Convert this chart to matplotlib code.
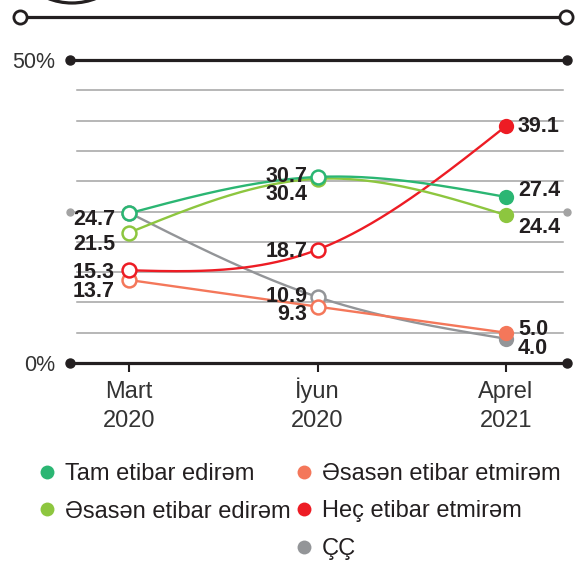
import numpy as np
import matplotlib
matplotlib.use("Agg")
import matplotlib.pyplot as plt
from matplotlib.patches import Circle

plt.rcParams['font.family'] = ['Liberation Sans', 'DejaVu Sans']

# ---------------- data ----------------
categories = ['Mart\n2020', 'İyun\n2020', 'Aprel\n2021']
series_names = ['Tam etibar edirəm', 'Əsasən etibar edirəm',
                'Əsasən etibar etmirəm', 'Heç etibar etmirəm', 'ÇÇ']
tam = [24.7, 30.7, 27.4]
esasen = [21.5, 30.4, 24.4]
esasen_etm = [13.7, 9.3, 5.0]
hec = [15.3, 18.7, 39.1]
cc = [24.8, 10.9, 4.0]
cc_show_label = [False, True, True]
y_tick_values = [0, 50]
y_tick_labels = ['0%', '50%']

DARK = '#231f20'
GRID = '#a3a3a3'
colors = {'tam': '#2bb673', 'esasen': '#8dc63f', 'esasen_etm': '#f4775a',
          'hec': '#ed1c24', 'cc': '#939598'}

# label offsets in pixels (dx, dy) relative to each point
label_off = {
    'tam': [(-14, -4), (-10, 3), (12, 9)],
    'esasen': [(-14, -10), (-10, -14), (12, -10)],
    'esasen_etm': [(-14, -9), (-10, -6), (12, 5)],
    'hec': [(-14, 0), (-10, 0), (12, 2)],
    'cc': [(-14, 0), (-10, 3), (12, -8)],
}


def natural_spline(x, y, n=200):
    x = np.asarray(x, float)
    y = np.asarray(y, float)
    m = len(x)
    h = np.diff(x)
    A = np.zeros((m, m))
    b = np.zeros(m)
    A[0, 0] = 1
    A[-1, -1] = 1
    for i in range(1, m - 1):
        A[i, i - 1] = h[i - 1]
        A[i, i] = 2 * (h[i - 1] + h[i])
        A[i, i + 1] = h[i]
        b[i] = 6 * ((y[i + 1] - y[i]) / h[i] - (y[i] - y[i - 1]) / h[i - 1])
    M = np.linalg.solve(A, b)
    xs = np.linspace(x[0], x[-1], n)
    ys = np.empty_like(xs)
    for k, xv in enumerate(xs):
        i = min(np.searchsorted(x, xv, side='right') - 1, m - 2)
        t1 = x[i + 1] - xv
        t0 = xv - x[i]
        hi = h[i]
        ys[k] = (M[i] * t1 ** 3 / (6 * hi) + M[i + 1] * t0 ** 3 / (6 * hi)
                 + (y[i] / hi - M[i] * hi / 6) * t1
                 + (y[i + 1] / hi - M[i + 1] * hi / 6) * t0)
    return xs, ys


W, H = 579, 562
fig = plt.figure(figsize=(W / 100, H / 100), dpi=100)

# background overlay in pixel coordinates (decorations + legend)
bg = fig.add_axes([0, 0, 1, 1], zorder=0)
bg.set_xlim(0, W)
bg.set_ylim(H, 0)
bg.axis('off')

bg.add_patch(Circle((72, -62), 65, fill=False, lw=2.3, ec=DARK, clip_on=False))
bg.plot([20, 566], [17, 17], color=DARK, lw=2.3, solid_capstyle='butt')
bg.plot([20, 566], [17, 17], 'o', ms=9.5, mfc='white', mec=DARK, mew=2)

# main data axes
ax_left, ax_right, ax_top, ax_bottom = 70, 567, 60, 363
ax = fig.add_axes([ax_left / W, 1 - ax_bottom / H,
                   (ax_right - ax_left) / W, (ax_bottom - ax_top) / H], zorder=1)
ax.patch.set_alpha(0)
for s in ax.spines.values():
    s.set_visible(False)
px_per_cat = 188.5
x0_px = 129
ax.set_xlim(-(x0_px - ax_left) / px_per_cat, 2 + (ax_right - (x0_px + 2 * px_per_cat)) / px_per_cat)
ax.set_ylim(0, 50)

tr = ax.get_yaxis_transform()
fx0 = (77 - ax_left) / (ax_right - ax_left)
fx1 = (563 - ax_left) / (ax_right - ax_left)
for v in range(5, 50, 5):
    if v == 25:
        ax.plot([0, 1], [v, v], color=GRID, lw=1.1, transform=tr, clip_on=False, zorder=1)
        ax.plot([0, 1], [v, v], 'o', color=GRID, ms=5, transform=tr, clip_on=False, zorder=1)
    else:
        ax.plot([fx0, fx1], [v, v], color=GRID, lw=1.1, transform=tr, clip_on=False, zorder=1)

for v in y_tick_values:
    ax.plot([0, 1], [v, v], color=DARK, lw=2.3, transform=tr, clip_on=False, zorder=2)
    ax.plot([0, 1], [v, v], 'o', color=DARK, ms=6.5, transform=tr, clip_on=False, zorder=2)

xs_cat = np.arange(len(categories))
order = [('cc', cc), ('esasen_etm', esasen_etm), ('hec', hec),
         ('esasen', esasen), ('tam', tam)]
z = 3
for key, vals in order:
    c = colors[key]
    sx, sy = natural_spline(xs_cat, vals)
    ax.plot(sx, sy, color=c, lw=1.7, zorder=z, clip_on=False)
    ax.plot(xs_cat[:-1], vals[:-1], 'o', ms=10, mfc='white', mec=c, mew=1.8,
            zorder=z + 0.5, clip_on=False)
    ax.plot(xs_cat[-1:], vals[-1:], 'o', ms=11, mfc=c, mec=c, mew=0,
            zorder=z + 0.5, clip_on=False)
    for i, v in enumerate(vals):
        if key == 'cc' and not cc_show_label[i]:
            continue
        dx, dy = label_off[key][i]
        ha = 'left' if i == len(vals) - 1 else 'right'
        ax.annotate(f'{v:.1f}', (xs_cat[i], v), xytext=(dx, dy - 7.7),
                    textcoords='offset pixels', ha=ha, va='baseline',
                    fontsize=15.5, fontweight='bold', color=DARK, zorder=10)
    z += 1

ax.set_yticks(y_tick_values)
ax.set_yticklabels(y_tick_labels)
ax.tick_params(axis='y', length=0, pad=10.5, labelsize=15.5, labelcolor='#333333')
ax.set_xticks(xs_cat)
ax.set_xticklabels([])
ax.tick_params(axis='x', length=6.5, width=1.5, color=DARK)
for i, cat in enumerate(categories):
    ax.annotate(cat, (xs_cat[i], 0), xytext=(0, -64), textcoords='offset pixels',
                ha='center', va='baseline', fontsize=17, color='#333333',
                linespacing=1.4, annotation_clip=False)

# legend
legend_pos = [(47, 472), (47, 509), (304, 472), (304, 509), (304, 547)]
legend_keys = ['tam', 'esasen', 'esasen_etm', 'hec', 'cc']
for (lx, ly), key, name in zip(legend_pos, legend_keys, series_names):
    bg.plot([lx], [ly], 'o', ms=10, color=colors[key], mew=0)
    bg.text(lx + 18, ly, name, fontsize=17, color=DARK, ha='left', va='center_baseline')

fig.savefig('out.png', dpi=100)
